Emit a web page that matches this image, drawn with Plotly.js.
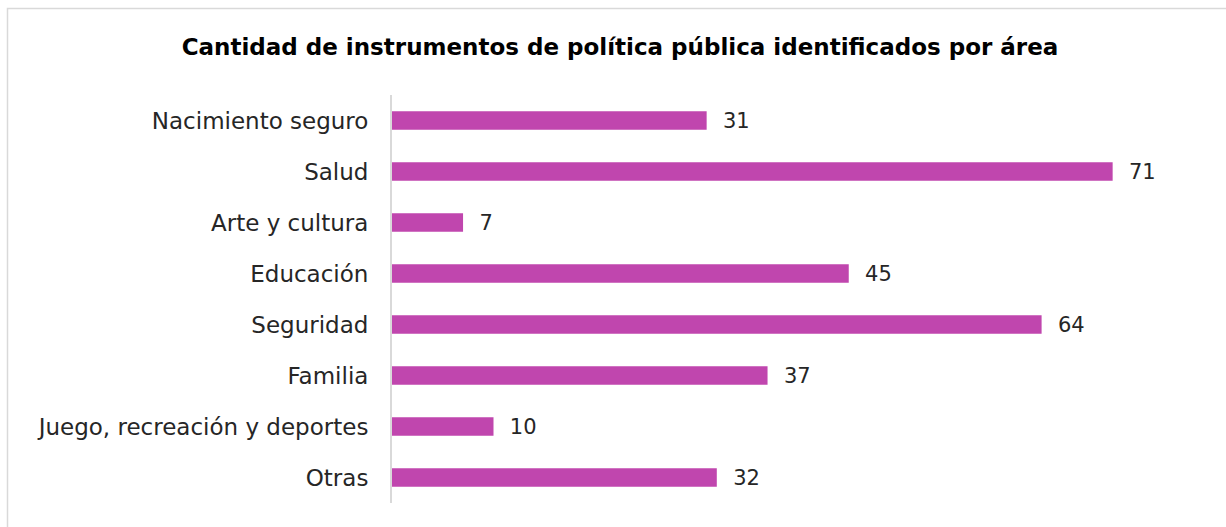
<!DOCTYPE html>
<html>
<head>
<meta charset="utf-8">
<script src="https://cdn.plot.ly/plotly-3.0.1.min.js"></script>
<style>
  html, body { margin: 0; padding: 0; background: #ffffff; }
  #chart { width: 1226px; height: 527px; }
</style>
</head>
<body>
<div id="chart"></div>
<script>
const categories = [
  "Nacimiento seguro",
  "Salud",
  "Arte y cultura",
  "Educación",
  "Seguridad",
  "Familia",
  "Juego, recreación y deportes",
  "Otras"
];
const values = [31, 71, 7, 45, 64, 37, 10, 32];
const chartTitle = "Cantidad de instrumentos de política pública identificados por área";

const fontFam = "'DejaVu Sans', 'Open Sans', sans-serif";

const trace = {
  type: "bar",
  orientation: "h",
  y: categories,
  x: values,
  marker: { color: "#C046AE" },
  text: values.map(String),
  texttemplate: "  %{x}",
  textposition: "outside",
  constraintext: "none",
  cliponaxis: false,
  textfont: { family: fontFam, size: 21, color: "#262626" },
  hoverinfo: "skip"
};

const W = 1226, H = 527;
const m = { l: 392, r: 22, t: 95, b: 24 };
const pw = W - m.l - m.r, ph = H - m.t - m.b;
const px = v => (v - m.l) / pw;
const py = v => (H - m.b - v) / ph;

const layout = {
  width: W,
  height: H,
  margin: m,
  paper_bgcolor: "#ffffff",
  plot_bgcolor: "#ffffff",
  showlegend: false,
  bargap: 0.64,
  title: {
    text: "<b>" + chartTitle + "</b>",
    font: { family: fontFam, size: 23, color: "#000000" },
    x: 620 / W,
    xanchor: "center",
    xref: "container",
    y: 1 - 47 / H,
    yref: "container",
    yanchor: "middle"
  },
  xaxis: {
    range: [0, 80],
    visible: false,
    showgrid: false,
    zeroline: false,
    fixedrange: true
  },
  yaxis: {
    autorange: "reversed",
    type: "category",
    showline: true,
    linecolor: "#d9d9d9",
    linewidth: 2,
    ticks: "",
    showgrid: false,
    zeroline: false,
    ticklabelstandoff: 17,
    tickfont: { family: fontFam, size: 23, color: "#262626" },
    fixedrange: true
  },
  shapes: [{
    type: "rect",
    xref: "paper", yref: "paper",
    x0: px(7.5), x1: px(1240),
    y0: py(540), y1: py(8.5),
    line: { color: "#d9d9d9", width: 1.5 },
    fillcolor: "rgba(0,0,0,0)",
    layer: "below"
  }]
};

Plotly.newPlot("chart", [trace], layout, { displayModeBar: false, staticPlot: true });
</script>
</body>
</html>
